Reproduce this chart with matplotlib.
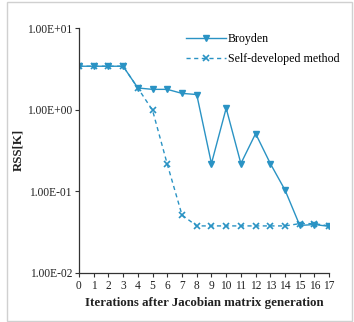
import matplotlib
matplotlib.use("Agg")
import matplotlib.pyplot as plt
from matplotlib.patches import Rectangle
from matplotlib.ticker import FixedLocator, NullLocator

iterations = list(range(18))
broyden = [3.4, 3.4, 3.4, 3.4, 1.84, 1.77, 1.77, 1.58, 1.53, 0.218, 1.04,
           0.218, 0.508, 0.218, 0.103, 0.038, 0.039, 0.037]
self_dev = [3.4, 3.4, 3.4, 3.4, 1.84, 0.98, 0.214, 0.051, 0.0375, 0.0375,
            0.0375, 0.0375, 0.0375, 0.0375, 0.0375, 0.040, 0.040, 0.0375]
y_ticks = [1e-2, 1e-1, 1e0, 1e1]
y_tick_labels = ["1.00E-02", "1.00E-01", "1.00E+00", "1.00E+01"]

plt.rcParams['font.family'] = ['Liberation Serif', 'DejaVu Serif']
color = '#2a93c4'

fig = plt.figure(figsize=(3.54, 3.22), dpi=100)
ax = fig.add_axes([0.223, 0.153, 0.707, 0.760])

ax.plot(iterations, broyden, '-', color=color, lw=1.0, marker='v', ms=3.8,
        label='Broyden')
ax.plot(iterations, self_dev, '--', color=color, lw=1.0, marker='x', ms=3.8,
        mew=1.2, dashes=(3, 2.5), label='Self-developed method')

ax.set_yscale('log')
ax.set_ylim(1e-2, 1e1)
ax.set_xlim(0, 17)
ax.yaxis.set_major_locator(FixedLocator(y_ticks))
ax.yaxis.set_minor_locator(NullLocator())
ax.set_yticklabels(y_tick_labels)
ax.set_xticks(iterations)

for s in ['top', 'right']:
    ax.spines[s].set_visible(False)
for s in ['left', 'bottom']:
    ax.spines[s].set_color('#333333')
    ax.spines[s].set_linewidth(0.9)
ax.tick_params(axis='both', direction='out', length=3, width=0.8,
               labelsize=8.3, color='#333333', labelcolor='#222222', pad=2)

ax.set_xlabel('Iterations after Jacobian matrix generation', fontsize=9.3,
              fontweight='bold', labelpad=4, color='#222222')
ax.set_ylabel('RSS[K]', fontsize=9.3, fontweight='bold', labelpad=2,
              color='#222222')

leg = ax.legend(loc='upper left', bbox_to_anchor=(0.40, 1.01), frameon=False,
                fontsize=8.6, handlelength=3.3, handletextpad=0.2,
                labelspacing=0.7, borderaxespad=0.2)

fig.patches.append(Rectangle((0.02, 0.004), 0.975, 0.99, transform=fig.transFigure,
                             fill=False, edgecolor='#d0d0d0', lw=1.0))

fig.savefig('out.png', dpi=100)
